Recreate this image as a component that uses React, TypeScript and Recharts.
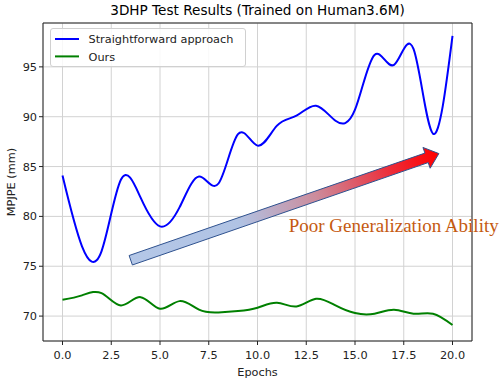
import {
  LineChart,
  Line,
  XAxis,
  YAxis,
  CartesianGrid,
  Legend,
  ReferenceArea,
  ReferenceLine,
  ReferenceDot,
} from "recharts";

const epochs = [0, 1, 2, 3, 4, 5, 6, 7, 8, 9, 10, 11, 12, 13, 14, 15, 16, 17, 18, 19, 20];
const straightforward = [
  84.1, 77.0, 76.5, 83.7, 81.9, 79.0, 80.9, 84.0, 83.3, 88.25, 87.1, 89.1, 90.1, 91.1, 89.6, 90.7,
  96.2, 95.2, 96.8, 88.3, 98.1,
];
const ours = [
  71.64, 72.08, 72.3, 71.07, 71.9, 70.74, 71.5, 70.64, 70.37, 70.5, 70.84, 71.34, 70.97, 71.74,
  71.07, 70.3, 70.24, 70.64, 70.24, 70.24, 69.1,
];
const xTicks = [0, 2.5, 5, 7.5, 10, 12.5, 15, 17.5, 20];
const yTicks = [70, 75, 80, 85, 90, 95];

const seriesNames = ["Straightforward approach", "Ours"];
const seriesColors = ["#0000ff", "#008000"];

const arrowStart = { x: 3.5, y: 75.6 };
const arrowEnd = { x: 19.3, y: 86.3 };
const annotation = { x: 11.6, y: 78.4, text: "Poor Generalization Ability" };

const data = epochs.map((e, i) => ({
  epoch: e,
  straightforward: straightforward[i],
  ours: ours[i],
}));

const FONT = "'DejaVu Sans', sans-serif";
const tickStyle = { fontSize: 11.3, fill: "#222", fontFamily: FONT };

function BlockArrow(props: any) {
  const { x1, y1, x2, y2 } = props;
  const dx = x2 - x1;
  const dy = y2 - y1;
  const len = Math.hypot(dx, dy);
  const ux = dx / len;
  const uy = dy / len;
  const nx = -uy;
  const ny = ux;
  const shaft = 5;
  const head = 11;
  const headLen = 13;
  const bx = x2 - ux * headLen;
  const by = y2 - uy * headLen;
  const pts = [
    [x1 + nx * shaft, y1 + ny * shaft],
    [bx + nx * shaft, by + ny * shaft],
    [bx + nx * head, by + ny * head],
    [x2, y2],
    [bx - nx * head, by - ny * head],
    [bx - nx * shaft, by - ny * shaft],
    [x1 - nx * shaft, y1 - ny * shaft],
  ]
    .map((p) => p.join(","))
    .join(" ");
  return (
    <g>
      <defs>
        <linearGradient id="arrowGrad" gradientUnits="userSpaceOnUse" x1={x1} y1={y1} x2={x2} y2={y2}>
          <stop offset="0" stopColor="#b4c7e7" />
          <stop offset="0.35" stopColor="#b0c3e4" />
          <stop offset="0.6" stopColor="#cc8c9c" />
          <stop offset="0.85" stopColor="#ee2a36" />
          <stop offset="1" stopColor="#ff0000" />
        </linearGradient>
      </defs>
      <polygon points={pts} fill="url(#arrowGrad)" stroke="#2f528f" strokeWidth={1} />
    </g>
  );
}

function AnnotationText(props: any) {
  return (
    <text
      x={props.cx}
      y={props.cy}
      fill="#c55a11"
      fontSize={19}
      fontFamily="'Liberation Serif', 'Times New Roman', serif"
    >
      {annotation.text}
    </text>
  );
}

function LegendBox() {
  return (
    <div
      style={{
        width: 196,
        height: 39,
        border: "1px solid #d0d0d0",
        borderRadius: 3,
        background: "rgba(255,255,255,0.85)",
        boxSizing: "border-box",
      }}
    >
      <svg width={196} height={39}>
        {seriesNames.map((name, i) => (
          <g key={name}>
            <line x1={4} x2={28} y1={10 + i * 17.4} y2={10 + i * 17.4} stroke={seriesColors[i]} strokeWidth={2} />
            <text x={37.5} y={14.2 + i * 17.4} fontSize={11.3} fontFamily={FONT} fill="#222">
              {name}
            </text>
          </g>
        ))}
      </svg>
    </div>
  );
}

export default function App() {
  return (
    <div style={{ position: "absolute", left: 0, top: 0, width: 502, height: 380, background: "#fff", fontFamily: FONT }}>
      <div
        style={{
          position: "absolute",
          top: 2,
          left: 43,
          width: 429,
          textAlign: "center",
          fontSize: 13.6,
          lineHeight: "16px",
          color: "#000",
        }}
      >
        3DHP Test Results (Trained on Human3.6M)
      </div>
      <LineChart width={502} height={380} data={data} margin={{ top: 23, right: 30, left: 0, bottom: 0 }}>
        <CartesianGrid stroke="#d2d2d2" strokeWidth={1} />
        <XAxis
          dataKey="epoch"
          type="number"
          domain={[-1, 21]}
          ticks={xTicks}
          tickFormatter={(v: number) => v.toFixed(1)}
          tick={tickStyle}
          tickLine={{ stroke: "#222" }}
          tickSize={4}
          tickMargin={6}
          axisLine={false}
          height={39}
          allowDataOverflow
          label={{ value: "Epochs", position: "insideBottom", offset: 4, style: { ...tickStyle, fill: "#222" } }}
        />
        <YAxis
          type="number"
          domain={[67.5, 99.4]}
          ticks={yTicks}
          tick={tickStyle}
          tickLine={{ stroke: "#222" }}
          tickSize={4}
          tickMargin={2}
          axisLine={false}
          width={43}
          allowDataOverflow
          label={{
            value: "MPJPE (mm)",
            angle: -90,
            position: "insideLeft",
            offset: 11,
            style: { ...tickStyle, textAnchor: "middle" },
          }}
        />
        <ReferenceArea x1={-1} x2={21} y1={67.5} y2={99.4} fill="none" stroke="#222" strokeWidth={1} ifOverflow="visible" />
        <Line
          type="natural"
          dataKey="straightforward"
          name={seriesNames[0]}
          stroke={seriesColors[0]}
          strokeWidth={2}
          dot={false}
          isAnimationActive={false}
        />
        <Line
          type="natural"
          dataKey="ours"
          name={seriesNames[1]}
          stroke={seriesColors[1]}
          strokeWidth={2}
          dot={false}
          isAnimationActive={false}
        />
        <ReferenceLine segment={[arrowStart, arrowEnd]} shape={BlockArrow} ifOverflow="visible" />
        <ReferenceDot x={annotation.x} y={annotation.y} r={0} shape={AnnotationText} ifOverflow="visible" />
        <Legend
          layout="vertical"
          align="center"
          verticalAlign="middle"
          wrapperStyle={{ left: 50, top: 28, width: 196, height: 39 }}
          content={() => <LegendBox />}
        />
      </LineChart>
    </div>
  );
}
